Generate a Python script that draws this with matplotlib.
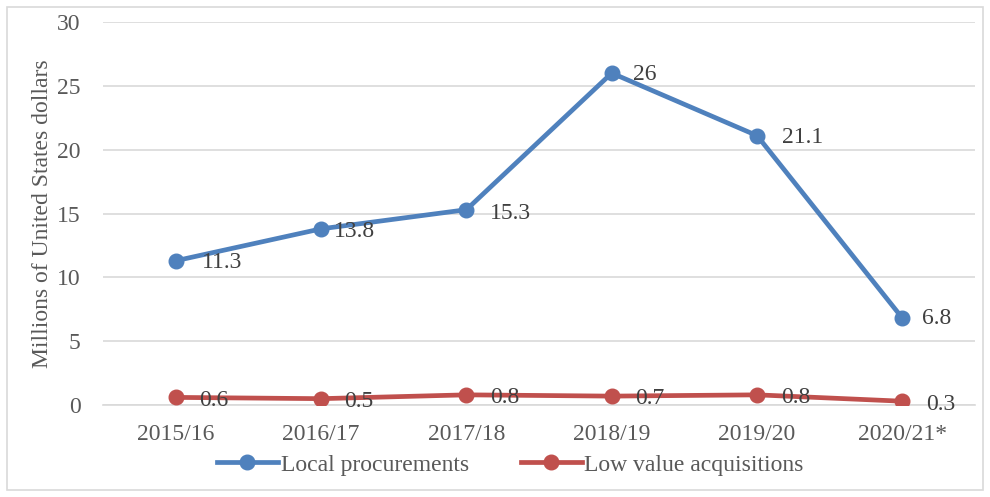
import matplotlib
matplotlib.use("Agg")
import matplotlib.pyplot as plt
from matplotlib.patches import Rectangle

years = ["2015/16", "2016/17", "2017/18", "2018/19", "2019/20", "2020/21*"]
local = [11.3, 13.8, 15.3, 26, 21.1, 6.8]
low_value = [0.6, 0.5, 0.8, 0.7, 0.8, 0.3]
local_labels = ["11.3", "13.8", "15.3", "26", "21.1", "6.8"]
low_labels = ["0.6", "0.5", "0.8", "0.7", "0.8", "0.3"]

BLUE = "#4F81BD"; RED = "#C0504D"; GRID = "#D9D9D9"; TXT = "#595959"; LBL = "#404040"
plt.rcParams["font.family"] = ["Liberation Serif", "DejaVu Serif"]

fig = plt.figure(figsize=(9.9, 4.97), dpi=100)
ax = fig.add_axes([0.104, 0.185, 0.881, 0.7707])
x = list(range(len(years)))
ax.plot(x, local, "-o", color=BLUE, lw=3.4, ms=10.5, label="Local procurements", zorder=3)
ax.plot(x, low_value, "-o", color=RED, lw=3.4, ms=10.5, label="Low value acquisitions", zorder=3)

# label offsets (points) to the right of each marker
loc_off = [(19, -1), (9, -2), (17, -3), (15, -1), (18, -1), (14, 0)]
for xi, yi, s, off in zip(x, local, local_labels, loc_off):
    ax.annotate(s, (xi, yi), textcoords="offset points", xytext=off, ha="left", va="center",
                fontsize=17, color=LBL)
for xi, yi, s in zip(x, low_value, low_labels):
    ax.annotate(s, (xi, yi), textcoords="offset points", xytext=(17, -2), ha="left", va="center",
                fontsize=17, color=LBL)

ax.set_xlim(-0.5, len(years) - 0.5)
ax.set_ylim(0, 30)
ax.set_yticks(range(0, 31, 5))
ax.set_xticks(x)
ax.set_xticklabels(years)
ax.tick_params(axis="both", length=0, labelsize=17, labelcolor=TXT)
ax.tick_params(axis="y", pad=16)
ax.tick_params(axis="x", pad=14)
ax.grid(axis="y", color=GRID, lw=1.2)
ax.set_axisbelow(True)
for sp in ("top", "right", "left"):
    ax.spines[sp].set_visible(False)
ax.spines["bottom"].set_color(GRID)
ax.spines["bottom"].set_linewidth(1.2)
ax.set_ylabel("Millions of United States dollars", fontsize=17, color=TXT, labelpad=3)

ax.legend(loc="lower center", bbox_to_anchor=(0.467, -0.24), ncol=2, frameon=False, fontsize=17,
          handlelength=2.6, handletextpad=0.1, columnspacing=2.2, labelcolor=TXT)

fig.patches.append(Rectangle((0.007, 0.014), 0.986, 0.972, transform=fig.transFigure,
                             fill=False, edgecolor=GRID, lw=1.2))
fig.savefig("out.png", dpi=100)
